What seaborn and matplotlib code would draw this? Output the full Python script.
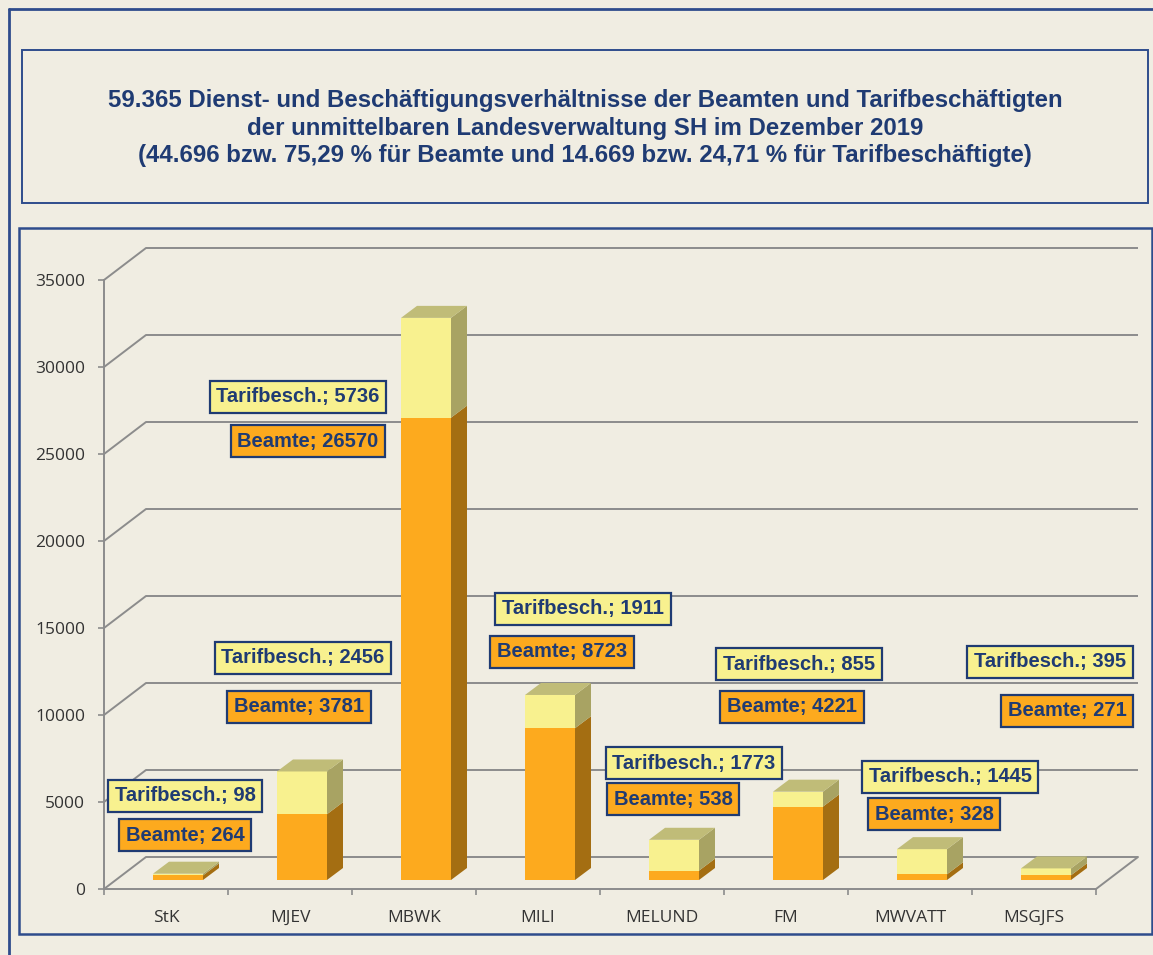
#!/usr/bin/env python3
"""
Dienst- und Beschaeftigungsverhaeltnisse SH 2019 - pseudo 3D stacked bars
"""

import numpy as np
import pandas as pd
import matplotlib
matplotlib.use("Agg")
import matplotlib.pyplot as plt
import seaborn as sns
from matplotlib.patches import Polygon, Rectangle
from matplotlib.lines import Line2D

# Data
ministries = ["StK", "MJEV", "MBWK", "MILI", "MELUND", "FM", "MWVATT", "MSGJFS"]
beamte = [264, 3781, 26570, 8723, 538, 4221, 328, 271]
tarif = [98, 2456, 5736, 1911, 1773, 855, 1445, 395]
y_ticks = [0, 5000, 10000, 15000, 20000, 25000, 30000, 35000]

title = ("59.365 Dienst- und Beschäftigungsverhältnisse der Beamten und Tarifbeschäftigten\n"
         "der unmittelbaren Landesverwaltung SH im Dezember 2019\n"
         "(44.696 bzw. 75,29 % für Beamte und 14.669 bzw. 24,71 % für Tarifbeschäftigte)")

# label box centres (category units, value units)
tarif_label_pos = [(0.153, 5345), (1.105, 13276), (1.064, 28276), (3.363, 16092),
                   (4.258, 7241), (5.105, 12931), (6.323, 6437), (7.129, 13046)]
beamte_label_pos = [(0.153, 3103), (1.073, 10460), (1.145, 25747), (3.194, 13621),
                    (4.089, 5172), (5.048, 10460), (6.194, 4310), (7.266, 10230)]

# Colours
BG = "#F0EDE2"
NAVY = "#1F3B73"
FRAME = "#2E4C8C"
GRID = "#8C8C8C"
ORANGE = "#FDAA1E"
ORANGE_SIDE = "#A46E12"
YELLOW = "#F8F18F"
YELLOW_SIDE = "#A8A363"
YELLOW_TOP = "#C0BC78"

W, H = 1153, 955
XS = 124.0            # px per category
VS = 87.0 / 5000.0    # px per value unit

# depth of floor / bar, in data units
floor_dx, floor_dy = 42 / XS, 32 / VS
bar_off_dx, bar_off_dy = 12 / XS, 9 / VS
bar_dx, bar_dy = 16 / XS, 12 / VS
bar_width = 50 / XS

sns.set_style("white")
plt.rcParams['font.family'] = ['Liberation Sans', 'DejaVu Sans']

fig = plt.figure(figsize=(W / 100, H / 100), dpi=100)
fig.patch.set_facecolor(BG)


def fx(px):
    return px / W


def fy(py):
    return 1 - py / H


# frames
fig.add_artist(Line2D([fx(9), fx(9)], [fy(9), fy(H)], color=FRAME, lw=2))
fig.add_artist(Line2D([fx(9), fx(W)], [fy(9), fy(9)], color=FRAME, lw=2))
fig.add_artist(Rectangle((fx(22), fy(203)), fx(1148) - fx(22), fy(50) - fy(203),
                         transform=fig.transFigure, fill=False, ec=FRAME, lw=1.4))
fig.add_artist(Rectangle((fx(19), fy(934)), fx(1152) - fx(19), fy(228) - fy(934),
                         transform=fig.transFigure, fill=False, ec=FRAME, lw=1.8))

fig.text(fx(585), fy(128), title, ha='center', va='center', fontsize=17.3,
         fontweight='bold', color=NAVY, linespacing=1.23)

# axes: front plane x -0.5..7.5, y 0..35000, plus depth room
ymax = 35000 + floor_dy
ax_left, ax_bottom = 104, 889
ax_right = ax_left + (8 + floor_dx) * XS
ax_top = ax_bottom - ymax * VS
ax = fig.add_axes([fx(ax_left), fy(ax_bottom), fx(ax_right) - fx(ax_left), fy(ax_top) - fy(ax_bottom)])
ax.set_facecolor('none')

df = pd.DataFrame({'ministry': ministries, 'beamte': beamte, 'tarif': tarif})
df['total'] = df['beamte'] + df['tarif']

sns.barplot(data=df, x='ministry', y='total', color=YELLOW, saturation=1,
            width=bar_width, linewidth=0, ax=ax, zorder=3)
sns.barplot(data=df, x='ministry', y='beamte', color=ORANGE, saturation=1,
            width=bar_width, linewidth=0, ax=ax, zorder=3)

n = len(ministries)
total_patches = ax.patches[:n]
beamte_patches = ax.patches[n:2 * n]

for tp, bp in zip(total_patches, beamte_patches):
    for p in (tp, bp):
        p.set_x(p.get_x() + bar_off_dx)
        p.set_y(p.get_y() + bar_off_dy)
    xl = tp.get_x()
    xr = xl + tp.get_width()
    y0 = tp.get_y()
    yb = y0 + bp.get_height()
    yt = y0 + tp.get_height()
    # side faces
    ax.add_patch(Polygon([(xr, y0), (xr + bar_dx, y0 + bar_dy), (xr + bar_dx, yb + bar_dy), (xr, yb)],
                         closed=True, fc=ORANGE_SIDE, ec='none', zorder=3))
    ax.add_patch(Polygon([(xr, yb), (xr + bar_dx, yb + bar_dy), (xr + bar_dx, yt + bar_dy), (xr, yt)],
                         closed=True, fc=YELLOW_SIDE, ec='none', zorder=3))
    # top face
    ax.add_patch(Polygon([(xl, yt), (xr, yt), (xr + bar_dx, yt + bar_dy), (xl + bar_dx, yt + bar_dy)],
                         closed=True, fc=YELLOW_TOP, ec='none', zorder=3))

# back wall gridlines with diagonal from the front axis
for v in y_ticks:
    ax.plot([-0.5, -0.5 + floor_dx, 7.5 + floor_dx], [v, v + floor_dy, v + floor_dy],
            color=GRID, lw=1.4, zorder=1, clip_on=False, solid_capstyle='butt')
ax.plot([7.5, 7.5 + floor_dx], [0, floor_dy], color=GRID, lw=1.4, zorder=1, clip_on=False)

# labels
for i in range(n):
    tx, ty = tarif_label_pos[i]
    ax.text(tx, ty, f"Tarifbesch.; {tarif[i]}", ha='center', va='center', fontsize=14.5,
            fontweight='bold', color=NAVY, zorder=5, clip_on=False,
            bbox=dict(boxstyle='square,pad=0.33', fc=YELLOW, ec=NAVY, lw=1.6))
    bx, by = beamte_label_pos[i]
    ax.text(bx, by, f"Beamte; {beamte[i]}", ha='center', va='center', fontsize=14.5,
            fontweight='bold', color=NAVY, zorder=5, clip_on=False,
            bbox=dict(boxstyle='square,pad=0.33', fc=ORANGE, ec=NAVY, lw=1.6))

ax.set_xlim(-0.5, 7.5 + floor_dx)
ax.set_ylim(0, ymax)
for side in ['top', 'right']:
    ax.spines[side].set_visible(False)
for side in ['left', 'bottom']:
    ax.spines[side].set_color(GRID)
    ax.spines[side].set_linewidth(1.4)
ax.spines['left'].set_bounds(0, 35000)
ax.spines['bottom'].set_bounds(-0.5, 7.5)

ax.set_yticks(y_ticks)
ax.set_yticklabels([str(v) for v in y_ticks], fontfamily='Open Sans', fontsize=12.5, color='#333333')
ax.set_xticks(range(n))
ax.set_xticklabels(ministries, fontfamily='Open Sans', fontsize=12.5, color='#333333')
ax.set_xticks(np.arange(-0.5, n, 1.0), minor=True)
ax.tick_params(axis='y', which='major', left=True, length=4.5, width=1.2, color=GRID, pad=9)
ax.tick_params(axis='x', which='major', bottom=True, length=0, pad=15)
ax.tick_params(axis='x', which='minor', bottom=True, length=4.5, width=1.2, color=GRID)
ax.set_xlabel('')
ax.set_ylabel('')
ax.grid(False)

fig.savefig('out.png', dpi=100, facecolor=BG)
print("Saved: out.png")
